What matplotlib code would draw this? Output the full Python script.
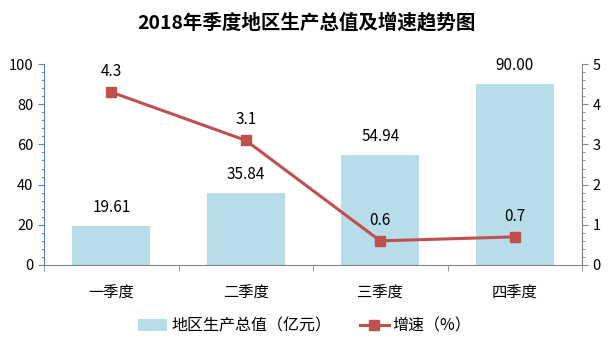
import matplotlib
matplotlib.use("Agg")
import matplotlib.pyplot as plt
from matplotlib.ticker import MultipleLocator
from matplotlib.lines import Line2D
from matplotlib.patches import Patch

plt.rcParams['font.family'] = ['Noto Sans CJK SC', 'DejaVu Sans']

categories = ['一季度', '二季度', '三季度', '四季度']
gdp = [19.61, 35.84, 54.94, 90.00]
gdp_labels = ['19.61', '35.84', '54.94', '90.00']
growth = [4.3, 3.1, 0.6, 0.7]
growth_labels = ['4.3', '3.1', '0.6', '0.7']

fig = plt.figure(figsize=(6.12, 3.55), dpi=100)
ax = fig.add_axes([44/612, 1-265/355, (582-44)/612, (265-64)/355])
x = list(range(len(categories)))
bar_color = '#B7DDE8'
line_color = '#C0504D'
ax.bar(x, gdp, width=0.58, color=bar_color, zorder=2)
ax.set_xlim(-0.5, 3.5)
ax.set_ylim(0, 100)
ax.yaxis.set_major_locator(MultipleLocator(20))
ax.yaxis.set_minor_locator(MultipleLocator(4))
for s in ['top', 'right']:
    ax.spines[s].set_visible(False)
ax.spines['left'].set_color('#4F81BD')
ax.spines['bottom'].set_color('#868686')
ax.tick_params(axis='y', which='both', color='#4F81BD', direction='out', labelsize=10.5, colors='#4F81BD', labelcolor='#000000')
ax.tick_params(axis='y', which='major', length=4)
ax.tick_params(axis='y', which='minor', length=2.5)
ax.set_xticks(x)
ax.set_xticklabels(categories, fontsize=11)
ax.tick_params(axis='x', which='major', length=0, pad=14)
ax.set_xticks([-0.5, 0.5, 1.5, 2.5, 3.5], minor=True)
ax.tick_params(axis='x', which='minor', length=4, color='#868686')
for xi, v, lab in zip(x, gdp, gdp_labels):
    ax.text(xi, v + 5, lab, ha='center', va='bottom', fontsize=11)

ax2 = ax.twinx()
ax2.set_ylim(0, 5)
ax2.plot(x, growth, color=line_color, lw=2.2, marker='s', markersize=7, zorder=3)
ax2.yaxis.set_major_locator(MultipleLocator(1))
ax2.yaxis.set_minor_locator(MultipleLocator(0.2))
for s in ['top', 'left', 'bottom']:
    ax2.spines[s].set_visible(False)
ax2.spines['right'].set_color('#868686')
ax2.tick_params(axis='y', which='both', color='#868686', labelsize=10.5)
ax2.tick_params(axis='y', which='major', length=4)
ax2.tick_params(axis='y', which='minor', length=2.5)
for xi, v, lab in zip(x, growth, growth_labels):
    ax2.text(xi, v + 0.3, lab, ha='center', va='bottom', fontsize=11)

fig.text(0.5, 1-22/355, '2018年季度地区生产总值及增速趋势图', ha='center', va='center',
         fontsize=14, fontweight='bold')

handles = [Patch(facecolor=bar_color, edgecolor='none'),
           Line2D([0], [0], color=line_color, lw=2.2, marker='s', markersize=7)]
fig.legend(handles, ['地区生产总值（亿元）', '增速（%）'], loc='center',
           bbox_to_anchor=(0.498, 1-326/355), ncol=2, frameon=False, fontsize=11.5,
           handlelength=1.8, columnspacing=1.8, handletextpad=0.25)

fig.savefig('out.png', dpi=100)
